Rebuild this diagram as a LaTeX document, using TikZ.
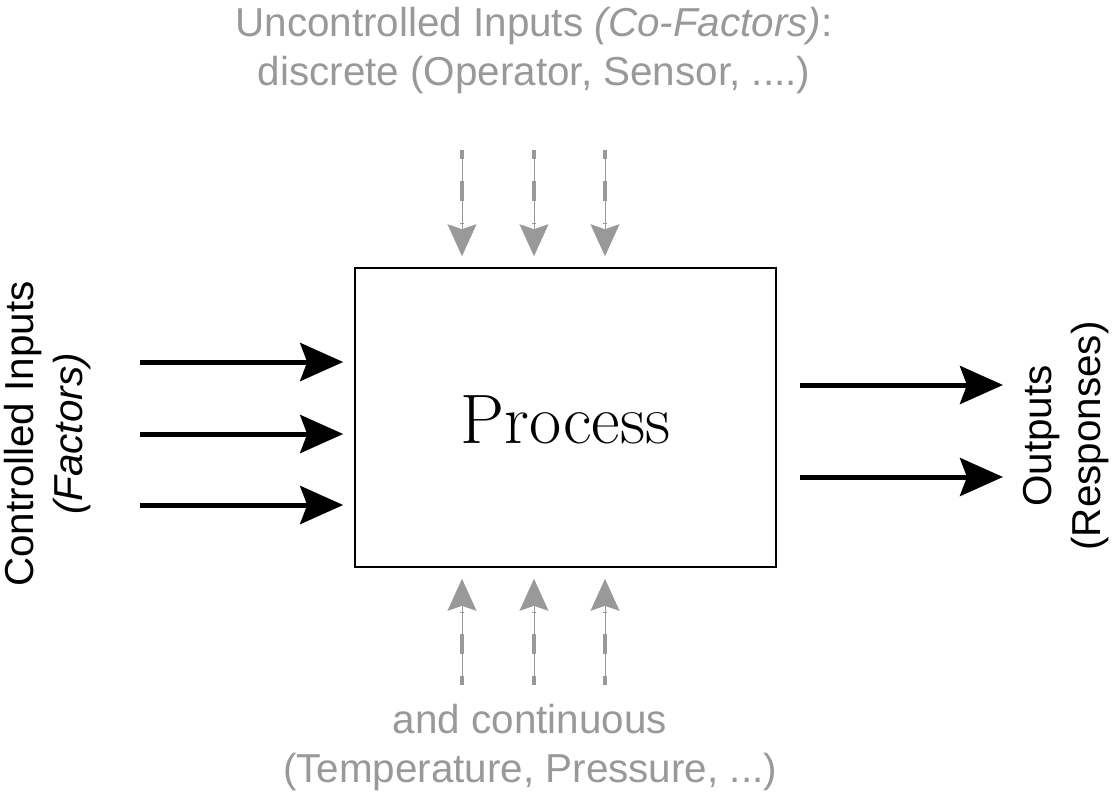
\documentclass[tikz,border=0pt]{standalone}
\usepackage{fontspec}
\setsansfont{Liberation Sans}
\usetikzlibrary{arrows.meta}
\definecolor{cofactor}{gray}{0.6}
\tikzset{
	label/.style={font=\sffamily\fontsize{20.2}{24.5}\selectfont, align=center, inner sep=0pt},
	factor/.style={line width=2.5pt, -{Stealth[length=21.5pt,width=19pt,inset=3.5pt]}},
	cofact/.style={draw=cofactor, line width=0.5pt, -{Stealth[length=16pt,width=14.5pt,inset=2.5pt]},
		preaction={draw=cofactor, -, line width=1.8pt, dash pattern=on 10pt off 11pt, dash phase=5.5pt, shorten >=22pt}},
}
\begin{document}
\begin{tikzpicture}[x=0.5pt,y=-0.5pt]
\useasboundingbox (0,0) rectangle (1116,800);
\node[draw, line width=0.8pt, minimum width=210.5pt, minimum height=149.5pt, text height=25.5pt, text depth=0pt,
	font=\fontsize{35}{40}\selectfont] (process) at (565.5,417.5) {Process};
\node[label, rotate=90] (controlled) at (48,434) {Controlled Inputs\\\textit{(Factors)}};
\node[label, rotate=90] (outputs) at (1066,436) {Outputs\\(Responses)};
\node[label, text=cofactor] (discrete) at (534,51) {Uncontrolled Inputs \textit{(Co-Factors)}:\\discrete (Operator, Sensor, ....)};
\node[label, text=cofactor] (continuous) at (530,748) {and continuous\\(Temperature, Pressure, ...)};
\foreach \y [count=\i] in {362,434,505}{
	\coordinate (fin\i) at (140,\y);
	\draw[factor, shorten >=5.5pt] (fin\i) -- (process.west |- fin\i);
}
\foreach \y [count=\i] in {385,477}{
	\coordinate (rsp\i) at (1003,\y);
	\draw[factor, shorten <=11.5pt] (process.east |- rsp\i) -- (rsp\i);
}
\foreach \x [count=\i] in {462,534,605}{
	\coordinate (dis\i) at (\x,150);
	\coordinate (con\i) at (\x,685);
	\draw[cofact, shorten >=5.5pt] (dis\i) -- (process.north -| dis\i);
	\draw[cofact, shorten >=5.5pt] (con\i) -- (process.south -| con\i);
}
\end{tikzpicture}
\end{document}
